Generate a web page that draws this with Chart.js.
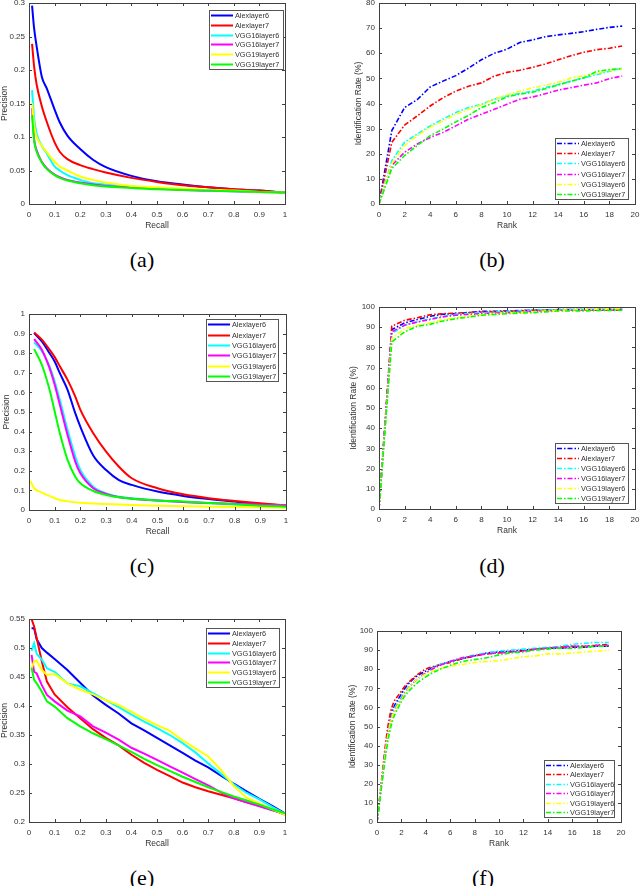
<!DOCTYPE html>
<html>
<head>
<meta charset="utf-8">
<script src="https://cdn.jsdelivr.net/npm/chart.js@4.4.0/dist/chart.umd.min.js"></script>
<style>
  body { margin: 0; background: #fff; width: 640px; height: 886px; position: relative; overflow: hidden; }
  canvas { position: absolute; }
  .cap { position: absolute; font-family: 'Liberation Serif', 'Times New Roman', 'DejaVu Serif', serif; font-size: 22px; line-height: 22px; transform: translate(-50%, -50%); color: #000; }
</style>
</head>
<body>
<canvas id="chartA"></canvas>
<canvas id="chartB"></canvas>
<canvas id="chartC"></canvas>
<canvas id="chartD"></canvas>
<canvas id="chartE"></canvas>
<canvas id="chartF"></canvas>
<div class="cap" style="left:142px; top:260px">(a)</div>
<div class="cap" style="left:492px; top:260px">(b)</div>
<div class="cap" style="left:142px; top:566px">(c)</div>
<div class="cap" style="left:492px; top:566px">(d)</div>
<div class="cap" style="left:142px; top:878px">(e)</div>
<div class="cap" style="left:483px; top:878px">(f)</div>
<script>
// series names (legend order)
const seriesNames = ["Alexlayer6", "Alexlayer7", "VGG16layer6", "VGG16layer7", "VGG19layer6", "VGG19layer7"];
const seriesColors = ["#0000ff", "#ff0000", "#00ffff", "#ff00ff", "#ffff00", "#00ff00"];

// (a) precision-recall
const recallA = [0.012, 0.02, 0.03, 0.05, 0.07, 0.1, 0.12, 0.15, 0.2, 0.25, 0.3, 0.4, 0.5, 0.6, 0.7, 0.8, 0.9, 1.0];
const a_alex6   = [0.296, 0.262, 0.235, 0.190, 0.172, 0.141, 0.122, 0.102, 0.082, 0.066, 0.055, 0.042, 0.034, 0.029, 0.025, 0.022, 0.020, 0.017];
const a_alex7   = [0.239, 0.205, 0.178, 0.146, 0.122, 0.092, 0.078, 0.067, 0.058, 0.052, 0.047, 0.039, 0.033, 0.028, 0.025, 0.022, 0.020, 0.017];
const a_vgg16_6 = [0.170, 0.128, 0.105, 0.087, 0.075, 0.056, 0.050, 0.043, 0.036, 0.031, 0.029, 0.026, 0.023, 0.022, 0.020, 0.019, 0.018, 0.017];
const a_vgg16_7 = [0.143, 0.097, 0.080, 0.063, 0.053, 0.044, 0.040, 0.036, 0.032, 0.029, 0.027, 0.025, 0.023, 0.021, 0.020, 0.019, 0.018, 0.017];
const a_vgg19_6 = [0.151, 0.117, 0.100, 0.087, 0.077, 0.063, 0.056, 0.050, 0.041, 0.036, 0.032, 0.027, 0.025, 0.023, 0.021, 0.020, 0.018, 0.017];
const a_vgg19_7 = [0.133, 0.095, 0.078, 0.062, 0.052, 0.043, 0.039, 0.035, 0.031, 0.028, 0.026, 0.024, 0.022, 0.021, 0.020, 0.019, 0.018, 0.017];

// ranks shared by (b), (d), (f)
const ranks = [0, 1, 2, 3, 4, 5, 6, 7, 8, 9, 10, 11, 12, 13, 14, 15, 16, 17, 18, 19];

// (b) identification rate
const b_alex6   = [0, 29.2, 38.4, 41.6, 46.6, 48.9, 51.1, 54.1, 57.4, 60.0, 61.6, 64.3, 65.3, 66.6, 67.3, 67.9, 68.6, 69.5, 70.3, 70.8];
const b_alex7   = [0, 24.5, 31.4, 35.1, 39.0, 42.3, 44.9, 46.9, 48.2, 50.9, 52.4, 53.2, 54.4, 55.7, 57.4, 59.0, 60.4, 61.4, 62.0, 62.9];
const b_vgg16_6 = [0, 17.3, 24.6, 27.9, 31.1, 33.8, 36.4, 38.4, 39.7, 41.7, 43.0, 44.0, 44.9, 46.3, 47.6, 48.9, 50.2, 51.5, 52.8, 54.1];
const b_vgg16_7 = [0, 15.4, 20.6, 23.9, 26.5, 28.5, 31.1, 33.8, 35.7, 37.7, 39.7, 41.7, 42.6, 43.9, 45.3, 46.3, 47.3, 48.2, 49.9, 50.9];
const b_vgg19_6 = [0, 16.0, 23.3, 27.2, 30.5, 33.1, 35.7, 37.7, 39.4, 41.7, 43.4, 44.9, 46.3, 47.3, 48.5, 50.2, 51.1, 51.9, 53.2, 53.7];
const b_vgg19_7 = [0, 14.1, 19.3, 23.3, 27.2, 29.8, 32.7, 35.3, 38.4, 40.3, 42.7, 43.7, 44.5, 45.9, 47.3, 48.9, 50.2, 52.8, 53.5, 53.9];

// (c) precision-recall
const recallC = [0.02, 0.05, 0.08, 0.1, 0.12, 0.15, 0.18, 0.2, 0.25, 0.3, 0.35, 0.4, 0.5, 0.6, 0.7, 0.8, 0.9, 1.0];
const c_alex6   = [0.903, 0.860, 0.800, 0.758, 0.698, 0.613, 0.494, 0.424, 0.278, 0.204, 0.153, 0.128, 0.094, 0.072, 0.056, 0.043, 0.031, 0.022];
const c_alex7   = [0.906, 0.869, 0.818, 0.780, 0.733, 0.664, 0.579, 0.511, 0.392, 0.298, 0.221, 0.162, 0.111, 0.080, 0.060, 0.046, 0.034, 0.024];
const c_vgg16_6 = [0.855, 0.810, 0.733, 0.656, 0.562, 0.409, 0.273, 0.204, 0.119, 0.085, 0.068, 0.060, 0.048, 0.041, 0.034, 0.029, 0.026, 0.022];
const c_vgg16_7 = [0.872, 0.818, 0.724, 0.639, 0.537, 0.383, 0.247, 0.187, 0.111, 0.082, 0.065, 0.058, 0.048, 0.041, 0.036, 0.031, 0.027, 0.022];
const recallC_vgg19_6 = [0.005, 0.02, 0.05, 0.08, 0.1, 0.12, 0.15, 0.2, 0.3, 0.4, 0.5, 0.6, 0.7, 0.8, 0.9, 1.0];
const c_vgg19_6 = [0.148, 0.111, 0.089, 0.072, 0.060, 0.051, 0.044, 0.037, 0.031, 0.026, 0.022, 0.019, 0.017, 0.015, 0.014, 0.012];
const c_vgg19_7 = [0.821, 0.741, 0.613, 0.503, 0.392, 0.256, 0.170, 0.136, 0.097, 0.077, 0.065, 0.058, 0.049, 0.043, 0.036, 0.029, 0.022, 0.017];

// (d) identification rate
const d_alex6   = [0, 88.8, 92.1, 93.8, 95.4, 96.4, 96.7, 97.2, 97.9, 97.9, 98.0, 98.2, 98.4, 98.5, 98.7, 98.7, 98.7, 98.8, 98.8, 98.9];
const d_alex7   = [0, 90.5, 93.4, 94.7, 96.2, 96.7, 97.0, 97.3, 97.5, 97.7, 97.9, 98.1, 98.4, 98.4, 98.4, 98.4, 98.4, 98.4, 98.4, 98.4];
const d_vgg16_6 = [0, 86.8, 91.0, 92.6, 94.2, 95.4, 96.4, 96.8, 97.2, 97.5, 97.7, 98.0, 98.4, 98.5, 98.7, 98.8, 98.8, 99.0, 99.1, 99.2];
const d_vgg16_7 = [0, 87.7, 91.0, 92.6, 93.8, 95.1, 95.9, 96.3, 96.7, 97.0, 97.2, 97.5, 97.9, 98.1, 98.4, 98.4, 98.4, 98.5, 98.6, 98.7];
const d_vgg19_6 = [0, 84.4, 89.3, 91.0, 92.1, 93.8, 94.7, 95.5, 96.2, 96.6, 97.0, 97.2, 97.5, 98.0, 98.4, 98.5, 98.7, 98.9, 99.0, 99.2];
const d_vgg19_7 = [0, 82.7, 87.7, 90.5, 91.4, 93.1, 94.2, 95.0, 95.9, 96.3, 96.7, 97.0, 97.2, 97.6, 98.0, 98.0, 98.0, 98.2, 98.3, 98.4];

// (e) precision-recall
const recallE = [0.01, 0.02, 0.03, 0.05, 0.07, 0.1, 0.15, 0.2, 0.25, 0.3, 0.35, 0.4, 0.45, 0.5, 0.55, 0.6, 0.65, 0.7, 0.75, 0.8, 0.85, 0.9, 0.95, 1.0];
const e_alex6   = [0.534, 0.534, 0.515, 0.500, 0.492, 0.481, 0.462, 0.440, 0.418, 0.402, 0.387, 0.370, 0.358, 0.345, 0.332, 0.319, 0.306, 0.294, 0.280, 0.266, 0.253, 0.240, 0.228, 0.215];
const e_alex7   = [0.550, 0.537, 0.517, 0.477, 0.442, 0.420, 0.398, 0.379, 0.360, 0.345, 0.332, 0.316, 0.302, 0.290, 0.279, 0.268, 0.260, 0.253, 0.247, 0.241, 0.234, 0.228, 0.221, 0.213];
const e_vgg16_6 = [0.495, 0.508, 0.490, 0.480, 0.465, 0.459, 0.439, 0.434, 0.422, 0.410, 0.398, 0.385, 0.373, 0.362, 0.350, 0.336, 0.320, 0.301, 0.283, 0.265, 0.250, 0.239, 0.226, 0.214];
const e_vgg16_7 = [0.488, 0.459, 0.456, 0.436, 0.419, 0.408, 0.392, 0.382, 0.365, 0.354, 0.342, 0.328, 0.318, 0.307, 0.296, 0.285, 0.274, 0.263, 0.251, 0.241, 0.234, 0.227, 0.220, 0.214];
const e_vgg19_6 = [0.465, 0.477, 0.478, 0.462, 0.454, 0.455, 0.439, 0.428, 0.420, 0.410, 0.402, 0.390, 0.378, 0.367, 0.357, 0.341, 0.327, 0.313, 0.290, 0.262, 0.242, 0.232, 0.222, 0.213];
const e_vgg19_7 = [0.466, 0.445, 0.439, 0.425, 0.408, 0.399, 0.379, 0.365, 0.353, 0.343, 0.332, 0.321, 0.309, 0.298, 0.288, 0.278, 0.269, 0.260, 0.252, 0.244, 0.237, 0.230, 0.222, 0.215];

// (f) identification rate
const f_alex6   = [0, 51.0, 67.0, 75.0, 79.0, 82.0, 84.0, 85.5, 87.0, 88.5, 89.0, 89.5, 90.0, 90.5, 91.0, 91.0, 91.5, 91.5, 92.0, 92.0];
const f_alex7   = [0, 54.0, 68.5, 75.5, 80.0, 82.0, 83.5, 85.5, 87.0, 88.0, 88.5, 89.0, 89.5, 90.5, 91.0, 91.5, 92.0, 92.0, 92.5, 93.0];
const f_vgg16_6 = [0, 50.0, 65.5, 73.0, 78.0, 82.0, 84.0, 86.0, 87.5, 88.5, 89.5, 90.0, 90.5, 91.0, 91.5, 92.0, 93.0, 93.5, 94.0, 94.0];
const f_vgg16_7 = [0, 49.0, 64.5, 73.0, 78.0, 81.5, 84.0, 86.0, 87.0, 88.0, 88.5, 89.0, 89.5, 90.5, 91.0, 91.5, 92.0, 92.0, 92.5, 92.5];
const f_vgg19_6 = [0, 49.0, 64.0, 73.0, 77.5, 80.0, 81.5, 82.5, 83.5, 84.0, 84.5, 85.5, 86.5, 87.0, 88.0, 88.0, 88.5, 89.0, 89.5, 90.0];
const f_vgg19_7 = [0, 46.0, 63.0, 71.0, 76.0, 79.5, 82.0, 84.0, 85.0, 86.0, 87.5, 88.5, 89.0, 90.0, 90.5, 91.0, 91.0, 91.5, 92.0, 92.0];

const AXIS_COLOR = "#404040";
const TEXT_COLOR = "#333";
const FONT = "'Liberation Sans', Arial, sans-serif";
const PAD_TOP = 10;
const PAD_RIGHT = 14;

// MATLAB-like box, inward ticks on all sides, legend inside the axes
const matlabBox = {
    id: "matlabBox",
    afterDatasetsDraw(chart, args, opts) {
        const { ctx, chartArea: ca, scales } = chart;
        ctx.save();
        ctx.setLineDash([]);
        ctx.strokeStyle = AXIS_COLOR;
        ctx.lineWidth = 1;
        ctx.beginPath();
        scales.x.ticks.forEach(t => {
            const px = Math.round(scales.x.getPixelForValue(t.value)) + 0.5;
            ctx.moveTo(px, ca.bottom); ctx.lineTo(px, ca.bottom - 3);
            ctx.moveTo(px, ca.top); ctx.lineTo(px, ca.top + 3);
        });
        scales.y.ticks.forEach(t => {
            const py = Math.round(scales.y.getPixelForValue(t.value)) + 0.5;
            ctx.moveTo(ca.left, py); ctx.lineTo(ca.left + 3, py);
            ctx.moveTo(ca.right, py); ctx.lineTo(ca.right - 3, py);
        });
        ctx.stroke();
        ctx.strokeRect(Math.round(ca.left) + 0.5, Math.round(ca.top) + 0.5, Math.round(ca.width), Math.round(ca.height));

        // legend
        const lg = opts.legend;
        const lx = Math.round(ca.right - lg.right - lg.w);
        const ly = Math.round(lg.top != null ? ca.top + lg.top : ca.bottom - lg.bottom - lg.h);
        ctx.fillStyle = "#fff";
        ctx.fillRect(lx, ly, lg.w, lg.h);
        ctx.strokeStyle = "#555";
        ctx.strokeRect(lx + 0.5, ly + 0.5, lg.w, lg.h);
        ctx.font = "7.3px " + FONT;
        ctx.textBaseline = "middle";
        chart.data.datasets.forEach((ds, i) => {
            const ry = Math.round(ly + lg.h * (i + 0.5) / 6) + 0.5;
            ctx.strokeStyle = ds.borderColor;
            ctx.lineWidth = ds.borderWidth;
            ctx.setLineDash(ds.borderDash || []);
            ctx.beginPath();
            ctx.moveTo(lx + 2, ry);
            ctx.lineTo(lx + 24, ry);
            ctx.stroke();
            ctx.fillStyle = TEXT_COLOR;
            ctx.fillText(ds.label, lx + 26, ry);
        });
        ctx.restore();
    }
};

const tickText = v => String(Number(v.toFixed(3)));

function makePanel(id, g, xs, ys, axes, legend) {
    // g: plot rect in page px, plus centre x of the y title
    const L = g.yTitleX - 5;
    const T = g.t - PAD_TOP;
    const W = g.r - L + PAD_RIGHT;
    const H = g.b - T + 27;
    const canvas = document.getElementById(id);
    canvas.style.left = L + "px";
    canvas.style.top = T + "px";
    canvas.width = W;
    canvas.height = H;

    const datasets = ys.map((vals, i) => ({
        label: seriesNames[i],
        data: vals.map((v, j) => ({ x: (Array.isArray(xs[0]) ? xs[i] : xs)[j], y: v })),
        borderColor: seriesColors[i],
        borderWidth: axes.dashed ? 1.6 : 2,
        borderDash: axes.dashed ? [5, 2, 1.5, 2] : undefined,
        pointRadius: 0,
        fill: false,
        cubicInterpolationMode: axes.smooth ? "monotone" : "default",
        tension: 0,
        order: 5 - i
    }));

    new Chart(canvas, {
        type: "line",
        data: { datasets },
        options: {
            responsive: false,
            animation: false,
            devicePixelRatio: 1,
            layout: { padding: { left: 0, top: PAD_TOP, right: PAD_RIGHT, bottom: 0 } },
            plugins: {
                legend: { display: false },
                tooltip: { enabled: false },
                matlabBox: { legend }
            },
            scales: {
                x: {
                    type: "linear",
                    min: axes.xMin, max: axes.xMax,
                    grid: { display: false, drawTicks: false },
                    border: { display: false },
                    ticks: { stepSize: axes.xStep, padding: 6, color: TEXT_COLOR, font: { family: FONT, size: 8 }, maxRotation: 0, autoSkip: false, callback: tickText },
                    title: { display: true, text: axes.xTitle, color: TEXT_COLOR, font: { family: FONT, size: 8.5 }, padding: 0 },
                    afterFit: s => { s.height = 27; }
                },
                y: {
                    type: "linear",
                    min: axes.yMin, max: axes.yMax,
                    grid: { display: false, drawTicks: false },
                    border: { display: false },
                    ticks: { stepSize: axes.yStep, padding: 4, color: TEXT_COLOR, font: { family: FONT, size: 8 }, autoSkip: false, callback: tickText },
                    title: { display: true, text: axes.yTitle, color: TEXT_COLOR, font: { family: FONT, size: 8.5 }, padding: 0 },
                    afterFit: s => { s.width = g.l - L; }
                }
            }
        },
        plugins: [matlabBox]
    });
}

const prAxes = (yMin, yMax, yStep, smooth) => ({ xMin: 0, xMax: 1, xStep: 0.1, yMin, yMax, yStep, xTitle: "Recall", yTitle: "Precision", smooth });
const rankAxes = (yMax, smooth) => ({ xMin: 0, xMax: 20, xStep: 2, yMin: 0, yMax, yStep: 10, xTitle: "Rank", yTitle: "Identification Rate (%)", dashed: true, smooth });

makePanel("chartA", { l: 29, t: 3, r: 285, b: 204, yTitleX: 5 }, recallA,
    [a_alex6, a_alex7, a_vgg16_6, a_vgg16_7, a_vgg19_6, a_vgg19_7],
    prAxes(0, 0.3, 0.05, true), { right: 2, top: 7, w: 74, h: 59 });

makePanel("chartB", { l: 379, t: 3, r: 635, b: 204, yTitleX: 359 }, ranks,
    [b_alex6, b_alex7, b_vgg16_6, b_vgg16_7, b_vgg19_6, b_vgg19_7],
    rankAxes(80, false), { right: 7, bottom: 5, w: 73, h: 61 });

makePanel("chartC", { l: 29, t: 314, r: 286, b: 510, yTitleX: 7 },
    [recallC, recallC, recallC, recallC, recallC_vgg19_6, recallC],
    [c_alex6, c_alex7, c_vgg16_6, c_vgg16_7, c_vgg19_6, c_vgg19_7],
    prAxes(0, 1, 0.1, true), { right: 8, top: 5, w: 72, h: 62 });

makePanel("chartD", { l: 379, t: 307, r: 635, b: 509, yTitleX: 354 }, ranks,
    [d_alex6, d_alex7, d_vgg16_6, d_vgg16_7, d_vgg19_6, d_vgg19_7],
    rankAxes(100, false), { right: 7, bottom: 6, w: 73, h: 60 });

makePanel("chartE", { l: 29, t: 619, r: 285, b: 822, yTitleX: 5 }, recallE,
    [e_alex6, e_alex7, e_vgg16_6, e_vgg16_7, e_vgg19_6, e_vgg19_7],
    prAxes(0.2, 0.55, 0.05, false), { right: 6, top: 9, w: 73, h: 59 });

makePanel("chartF", { l: 377, t: 631, r: 621, b: 822, yTitleX: 353 }, ranks,
    [f_alex6, f_alex7, f_vgg16_6, f_vgg16_7, f_vgg19_6, f_vgg19_7],
    rankAxes(100, true), { right: 7, bottom: 5, w: 70, h: 57 });
</script>
</body>
</html>
